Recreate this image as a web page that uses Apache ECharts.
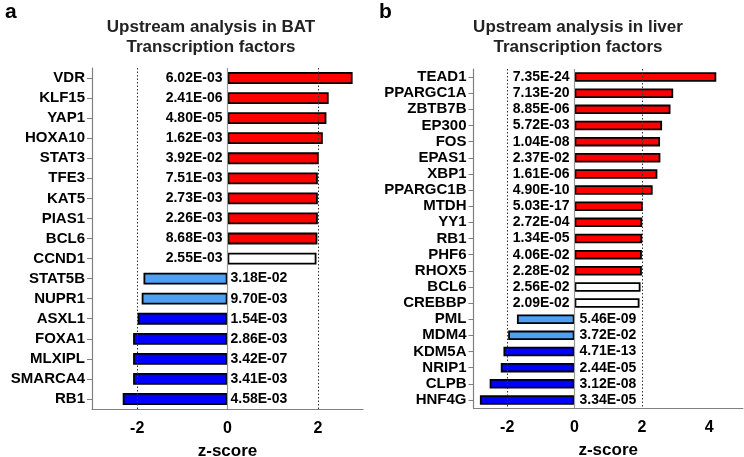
<!DOCTYPE html>
<html>
<head>
<meta charset="utf-8">
<script src="https://cdn.jsdelivr.net/npm/echarts@6/dist/echarts.min.js"></script>
<style>html,body{margin:0;padding:0;background:#fff}#c{width:744px;height:457px}</style>
</head>
<body>
<div id="c"></div>
<script>
// ---- Panel a: BAT ----
var catsBAT = ['VDR','KLF15','YAP1','HOXA10','STAT3','TFE3','KAT5','PIAS1','BCL6','CCND1','STAT5B','NUPR1','ASXL1','FOXA1','MLXIPL','SMARCA4','RB1'];
var zBAT = [2.77, 2.24, 2.19, 2.11, 2.02, 2.00, 2.00, 2.00, 1.99, 1.97, -1.86, -1.90, -1.99, -2.09, -2.09, -2.09, -2.32];
var pBAT = ['6.02E-03','2.41E-06','4.80E-05','1.62E-03','3.92E-02','7.51E-03','2.73E-03','2.26E-03','8.68E-03','2.55E-03','3.18E-02','9.70E-03','1.54E-03','2.86E-03','3.42E-07','3.41E-03','4.58E-03'];
var clsBAT = ['up','up','up','up','up','up','up','up','up','ns','downWeak','downWeak','down','down','down','down','down'];

// ---- Panel b: liver ----
var catsLiver = ['TEAD1','PPARGC1A','ZBTB7B','EP300','FOS','EPAS1','XBP1','PPARGC1B','MTDH','YY1','RB1','PHF6','RHOX5','BCL6','CREBBP','PML','MDM4','KDM5A','NRIP1','CLPB','HNF4G'];
var zLiver = [4.21, 2.93, 2.85, 2.60, 2.54, 2.55, 2.46, 2.32, 2.03, 2.01, 2.01, 2.00, 2.00, 1.96, 1.93, -1.71, -1.97, -2.11, -2.19, -2.52, -2.81];
var pLiver = ['7.35E-24','7.13E-20','8.85E-06','5.72E-03','1.04E-08','2.37E-02','1.61E-06','4.90E-10','5.03E-17','2.72E-04','1.34E-05','4.06E-02','2.28E-02','2.56E-02','2.09E-02','5.46E-09','3.72E-02','4.71E-13','2.44E-05','3.12E-08','3.34E-05'];
var clsLiver = ['up','up','up','up','up','up','up','up','up','up','up','up','up','ns','ns','downWeak','downWeak','down','down','down','down'];

var titles = ['Upstream analysis in BAT\nTranscription factors', 'Upstream analysis in liver\nTranscription factors'];
var xTickValues = [-2, 0, 2, 4];

var palette = {up:'#ff0000', ns:'#ffffff', downWeak:'#4fa0f2', down:'#0000ff'};
var FONT = '"Liberation Sans", Arial, sans-serif';

function makeData(z, p, cls, negDist) {
  return z.map(function (v, i) {
    return {
      value: v,
      itemStyle: {color: palette[cls[i]]},
      label: {
        show: true,
        formatter: p[i],
        position: v >= 0 ? 'left' : 'right',
        distance: v >= 0 ? 5 : negDist
      }
    };
  });
}

var chart = echarts.init(document.getElementById('c'), null, {renderer: 'canvas'});

var axisGray = '#808080';
function xAxisCfg(gi, min, max) {
  return {
    gridIndex: gi, type: 'value', min: min, max: max, interval: 1,
    axisLine: {show: true, onZero: false, lineStyle: {color: axisGray, width: 1.2}},
    axisTick: {show: false},
    splitLine: {show: false},
    axisLabel: {
      margin: 12, color: '#000', fontFamily: FONT, fontWeight: 'bold', fontSize: 16,
      formatter: function (v) { return xTickValues.indexOf(v) >= 0 ? String(v) : ''; }
    },
    name: 'z-score', nameLocation: 'middle', nameGap: 34,
    nameTextStyle: {color: '#000', fontFamily: FONT, fontWeight: 'bold', fontSize: 17}
  };
}
function yAxisCfg(gi, cats) {
  return {
    gridIndex: gi, type: 'category', data: cats, inverse: true,
    axisLine: {show: true, onZero: false, lineStyle: {color: axisGray, width: 1.2}},
    axisTick: {show: true, length: 5, alignWithLabel: true, lineStyle: {color: axisGray}},
    axisLabel: {margin: 7, color: '#000', fontFamily: FONT, fontWeight: 'bold', fontSize: 15, interval: 0}
  };
}
function refLines(gi) {
  return {
    type: 'bar', xAxisIndex: gi, yAxisIndex: gi, data: [], z: 1, silent: true,
    markLine: {
      silent: true, symbol: 'none', label: {show: false}, animation: false,
      data: [
        {xAxis: -2, lineStyle: {type: [1.5, 2], color: '#333', width: 1}},
        {xAxis: 2, lineStyle: {type: [1.5, 2], color: '#333', width: 1}},
        {xAxis: 0, lineStyle: {type: 'solid', color: '#999', width: 1.2}}
      ]
    }
  };
}
function barSeries(gi, z, p, cls, negDist) {
  return {
    type: 'bar', xAxisIndex: gi, yAxisIndex: gi, z: 3,
    barWidth: '59%',
    data: makeData(z, p, cls, negDist),
    itemStyle: {borderColor: '#000', borderWidth: 1.8},
    label: {color: '#000', fontFamily: FONT, fontWeight: 'bold', fontSize: 14},
    animation: false
  };
}

chart.setOption({
  animation: false,
  textStyle: {fontFamily: FONT},
  title: [
    {text: titles[0], left: 206, top: 12, textAlign: 'center',
     textStyle: {fontFamily: FONT, fontWeight: 'bold', fontSize: 17, lineHeight: 20, color: '#222'}},
    {text: titles[1], left: 573, top: 12, textAlign: 'center',
     textStyle: {fontFamily: FONT, fontWeight: 'bold', fontSize: 17, lineHeight: 20, color: '#222'}},
    {text: 'a', left: 0, top: -3, textStyle: {fontFamily: FONT, fontWeight: 'bold', fontSize: 21, color: '#000'}},
    {text: 'b', left: 374, top: -3, textStyle: {fontFamily: FONT, fontWeight: 'bold', fontSize: 21, color: '#000'}}
  ],
  grid: [
    {left: 92, right: 381, top: 68, bottom: 48, outerBoundsMode: 'none', containLabel: false},
    {left: 473.5, right: 1.1, top: 69, bottom: 49, outerBoundsMode: 'none', containLabel: false}
  ],
  xAxis: [xAxisCfg(0, -3, 3), xAxisCfg(1, -3, 5)],
  yAxis: [yAxisCfg(0, catsBAT), yAxisCfg(1, catsLiver)],
  series: [
    refLines(0), refLines(1),
    barSeries(0, zBAT, pBAT, clsBAT, 3),
    barSeries(1, zLiver, pLiver, clsLiver, 5)
  ]
});
</script>
</body>
</html>
